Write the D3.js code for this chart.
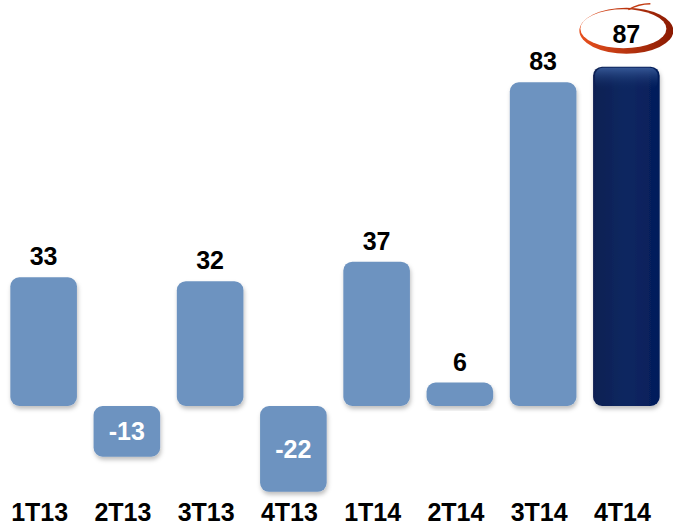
<!DOCTYPE html>
<html>
<head>
<meta charset="utf-8">
<script src="https://cdn.jsdelivr.net/npm/d3@7"></script>
<style>
  body { margin: 0; background: #fff; }
  text { font-family: "Liberation Sans", Arial, sans-serif; font-weight: bold; }
</style>
</head>
<body>
<div class="mainWrapper"></div>
<script>
// data
var quarters = ["1T13", "2T13", "3T13", "4T13", "1T14", "2T14", "3T14", "4T14"];
var values = [33, -13, 32, -22, 37, 6, 83, 87];
var highlight = "4T14";

var width = 673, height = 526;

var svg = d3.select(".mainWrapper")
  .append("svg")
    .attr("width", width)
    .attr("height", height);

var defs = svg.append("defs");

// soft shadow under the bars
var shadow = defs.append("filter").attr("id", "shadow")
  .attr("x", "-20%").attr("y", "-20%").attr("width", "140%").attr("height", "140%");
shadow.append("feDropShadow")
  .attr("dx", 1).attr("dy", 3).attr("stdDeviation", 2)
  .attr("flood-color", "#000").attr("flood-opacity", 0.25);

// dark bar gradient
var dark = defs.append("linearGradient").attr("id", "darkGrad")
  .attr("x1", "0").attr("x2", "1").attr("y1", "0").attr("y2", "0");
dark.append("stop").attr("offset", "0%").attr("stop-color", "#0a1f52");
dark.append("stop").attr("offset", "50%").attr("stop-color", "#0d2861");
dark.append("stop").attr("offset", "100%").attr("stop-color", "#041c5a");

var darkTop = defs.append("linearGradient").attr("id", "darkTop")
  .attr("x1", "0").attr("x2", "0").attr("y1", "0").attr("y2", "1");
darkTop.append("stop").attr("offset", "0%").attr("stop-color", "#3a5d9c").attr("stop-opacity", 0.9);
darkTop.append("stop").attr("offset", "100%").attr("stop-color", "#0d2861").attr("stop-opacity", 0);

// ring colour
var ring = defs.append("linearGradient").attr("id", "ringGrad")
  .attr("x1", "0").attr("x2", "1").attr("y1", "0").attr("y2", "0");
ring.append("stop").attr("offset", "0%").attr("stop-color", "#e8501e");
ring.append("stop").attr("offset", "100%").attr("stop-color", "#8a1a02");

var x = d3.scaleBand()
  .domain(quarters)
  .range([2, 668])
  .paddingInner(0.2)
  .paddingOuter(0.1);

var y = d3.scaleLinear()
  .domain([-30, 100])
  .range([523, 16]);

var data = d3.zip(quarters, values);

svg.append("g")
  .selectAll("rect")
  .data(data)
  .enter()
  .append("rect")
    .attr("x", function(d) { return x(d[0]); })
    .attr("y", function(d) { return y(Math.max(0, d[1])); })
    .attr("width", x.bandwidth())
    .attr("height", function(d) { return Math.abs(y(d[1]) - y(0)); })
    .attr("rx", 9).attr("ry", 9)
    .attr("fill", function(d) { return d[0] == highlight ? "url(#darkGrad)" : "#6d93c0"; })
    .attr("filter", "url(#shadow)");

// top bevel of the highlighted bar
var hv = values[quarters.indexOf(highlight)];
svg.append("rect")
  .attr("x", x(highlight) + 2)
  .attr("y", y(hv) + 1)
  .attr("width", x.bandwidth() - 4)
  .attr("height", 22)
  .attr("rx", 8)
  .attr("fill", "url(#darkTop)");

// hand drawn ring round the last value
var cx = x(highlight) + x.bandwidth() / 2, cy = y(hv) - 36;
svg.append("ellipse")
  .attr("cx", cx).attr("cy", cy)
  .attr("rx", 47).attr("ry", 23)
  .attr("fill", "url(#ringGrad)");
svg.append("ellipse")
  .attr("cx", cx - 3).attr("cy", cy - 2)
  .attr("rx", 43).attr("ry", 19.5)
  .attr("fill", "#ffffff");
// little tail at top right
svg.append("path")
  .attr("d", "M" + (cx + 2) + "," + (cy - 21) + " Q" + (cx + 12) + "," + (cy - 27) + " " + (cx + 24) + "," + (cy - 27))
  .attr("fill", "none")
  .attr("stroke", "#c23a10")
  .attr("stroke-width", 1.5);

// value labels
svg.append("g")
  .selectAll("text")
  .data(data)
  .enter()
  .append("text")
    .attr("x", function(d) { return x(d[0]) + x.bandwidth() / 2; })
    .attr("y", function(d) {
      if (d[1] < 0) return (y(0) + y(d[1])) / 2 + 9;
      if (d[0] == highlight) return y(d[1]) - 24;
      return y(d[1]) - 12;
    })
    .attr("text-anchor", "middle")
    .attr("font-size", 25)
    .attr("fill", function(d) { return d[1] < 0 ? "#ffffff" : "#000000"; })
    .text(function(d) { return d[1]; });

// category labels
svg.append("g")
  .selectAll("text")
  .data(quarters)
  .enter()
  .append("text")
    .attr("x", function(d) { return x(d) + x.bandwidth() / 2 - 4; })
    .attr("y", 521)
    .attr("text-anchor", "middle")
    .attr("font-size", 25)
    .attr("fill", "#000")
    .text(function(d) { return d; });
</script>
</body>
</html>
